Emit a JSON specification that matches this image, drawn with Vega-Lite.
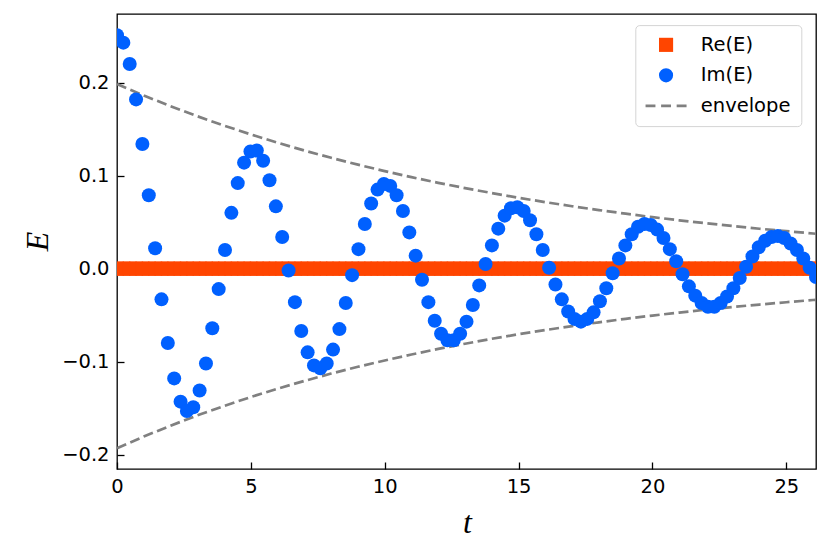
{
  "$schema": "https://vega.github.io/schema/vega-lite/v6.json",
  "width": 699,
  "height": 455,
  "autosize": {"type": "none"},
  "padding": {"left": 117, "top": 14, "right": 15, "bottom": 88},
  "background": "white",
  "config": {
    "view": {"stroke": "black", "strokeWidth": 1.3},
    "axis": {
      "grid": false, "domain": false, "tickColor": "black", "tickWidth": 1.3,
      "tickSize": -7, "labelPadding": 15, "labelFont": "DejaVu Sans", "labelFontSize": 19.5,
      "labelColor": "black", "labelFlush": false, "titleFont": "Liberation Serif", "titleFontStyle": "italic",
      "titleFontWeight": "normal", "titleFontSize": 32, "titleColor": "black", "zindex": 1
    },
    "axisX": {"titleX": 350, "titleY": 53, "titleAlign": "center", "titleBaseline": "middle", "titleAngle": 0},
    "axisY": {"titleX": -80, "titleY": 227, "titleAlign": "center", "titleBaseline": "middle", "titleAngle": -90},
    "legend": {
      "labelFont": "DejaVu Sans", "labelFontSize": 19.5, "labelColor": "black",
      "symbolSize": 200, "symbolStrokeWidth": 0, "padding": 10, "rowPadding": 9.5,
      "labelOffset": 25, "symbolOffset": 11, "strokeColor": "#d4d4d4", "fillColor": "white",
      "cornerRadius": 4, "strokeWidth": 1
    }
  },
  "datasets": {
    "pts": [
      {"t": 0, "re": 0, "im": 0.251}, {"t": 0.237, "re": 0, "im": 0.243}, {"t": 0.475, "re": 0, "im": 0.220},
      {"t": 0.712, "re": 0, "im": 0.182}, {"t": 0.949, "re": 0, "im": 0.134}, {"t": 1.187, "re": 0, "im": 0.079},
      {"t": 1.424, "re": 0, "im": 0.022}, {"t": 1.662, "re": 0, "im": -0.033}, {"t": 1.899, "re": 0, "im": -0.080},
      {"t": 2.136, "re": 0, "im": -0.118}, {"t": 2.374, "re": 0, "im": -0.143}, {"t": 2.611, "re": 0, "im": -0.153},
      {"t": 2.848, "re": 0, "im": -0.149}, {"t": 3.086, "re": 0, "im": -0.131}, {"t": 3.323, "re": 0, "im": -0.102},
      {"t": 3.560, "re": 0, "im": -0.064}, {"t": 3.798, "re": 0, "im": -0.022}, {"t": 4.035, "re": 0, "im": 0.020},
      {"t": 4.272, "re": 0, "im": 0.060}, {"t": 4.510, "re": 0, "im": 0.092}, {"t": 4.747, "re": 0, "im": 0.114},
      {"t": 4.985, "re": 0, "im": 0.126}, {"t": 5.222, "re": 0, "im": 0.127}, {"t": 5.459, "re": 0, "im": 0.116},
      {"t": 5.697, "re": 0, "im": 0.095}, {"t": 5.934, "re": 0, "im": 0.067}, {"t": 6.171, "re": 0, "im": 0.034},
      {"t": 6.409, "re": 0, "im": -0.002}, {"t": 6.646, "re": 0, "im": -0.036}, {"t": 6.883, "re": 0, "im": -0.067},
      {"t": 7.121, "re": 0, "im": -0.090}, {"t": 7.358, "re": 0, "im": -0.104}, {"t": 7.596, "re": 0, "im": -0.107},
      {"t": 7.833, "re": 0, "im": -0.102}, {"t": 8.070, "re": 0, "im": -0.087}, {"t": 8.308, "re": 0, "im": -0.065},
      {"t": 8.545, "re": 0, "im": -0.037}, {"t": 8.782, "re": 0, "im": -0.007}, {"t": 9.020, "re": 0, "im": 0.021},
      {"t": 9.257, "re": 0, "im": 0.048}, {"t": 9.494, "re": 0, "im": 0.070}, {"t": 9.732, "re": 0, "im": 0.085},
      {"t": 9.969, "re": 0, "im": 0.091}, {"t": 10.206, "re": 0, "im": 0.089}, {"t": 10.444, "re": 0, "im": 0.079},
      {"t": 10.681, "re": 0, "im": 0.062}, {"t": 10.919, "re": 0, "im": 0.039}, {"t": 11.156, "re": 0, "im": 0.014},
      {"t": 11.393, "re": 0, "im": -0.012}, {"t": 11.631, "re": 0, "im": -0.036}, {"t": 11.868, "re": 0, "im": -0.056},
      {"t": 12.105, "re": 0, "im": -0.070}, {"t": 12.343, "re": 0, "im": -0.077}, {"t": 12.580, "re": 0, "im": -0.077},
      {"t": 12.817, "re": 0, "im": -0.070}, {"t": 13.055, "re": 0, "im": -0.057}, {"t": 13.292, "re": 0, "im": -0.039},
      {"t": 13.530, "re": 0, "im": -0.018}, {"t": 13.767, "re": 0, "im": 0.005}, {"t": 14.004, "re": 0, "im": 0.025},
      {"t": 14.242, "re": 0, "im": 0.043}, {"t": 14.479, "re": 0, "im": 0.057}, {"t": 14.716, "re": 0, "im": 0.065},
      {"t": 14.954, "re": 0, "im": 0.066}, {"t": 15.191, "re": 0, "im": 0.062}, {"t": 15.428, "re": 0, "im": 0.052},
      {"t": 15.666, "re": 0, "im": 0.037}, {"t": 15.903, "re": 0, "im": 0.020}, {"t": 16.140, "re": 0, "im": 0.001},
      {"t": 16.378, "re": 0, "im": -0.017}, {"t": 16.615, "re": 0, "im": -0.033}, {"t": 16.853, "re": 0, "im": -0.046},
      {"t": 17.090, "re": 0, "im": -0.054}, {"t": 17.327, "re": 0, "im": -0.057}, {"t": 17.565, "re": 0, "im": -0.054},
      {"t": 17.802, "re": 0, "im": -0.047}, {"t": 18.039, "re": 0, "im": -0.035}, {"t": 18.277, "re": 0, "im": -0.021},
      {"t": 18.514, "re": 0, "im": -0.005}, {"t": 18.751, "re": 0, "im": 0.011}, {"t": 18.989, "re": 0, "im": 0.025},
      {"t": 19.226, "re": 0, "im": 0.037}, {"t": 19.464, "re": 0, "im": 0.045}, {"t": 19.701, "re": 0, "im": 0.048},
      {"t": 19.938, "re": 0, "im": 0.047}, {"t": 20.176, "re": 0, "im": 0.042}, {"t": 20.413, "re": 0, "im": 0.033},
      {"t": 20.650, "re": 0, "im": 0.021}, {"t": 20.888, "re": 0, "im": 0.008}, {"t": 21.125, "re": 0, "im": -0.006},
      {"t": 21.362, "re": 0, "im": -0.019}, {"t": 21.600, "re": 0, "im": -0.029}, {"t": 21.837, "re": 0, "im": -0.037},
      {"t": 22.074, "re": 0, "im": -0.041}, {"t": 22.312, "re": 0, "im": -0.041}, {"t": 22.549, "re": 0, "im": -0.037},
      {"t": 22.787, "re": 0, "im": -0.030}, {"t": 23.024, "re": 0, "im": -0.021}, {"t": 23.261, "re": 0, "im": -0.010},
      {"t": 23.499, "re": 0, "im": 0.002}, {"t": 23.736, "re": 0, "im": 0.013}, {"t": 23.973, "re": 0, "im": 0.023},
      {"t": 24.211, "re": 0, "im": 0.030}, {"t": 24.448, "re": 0, "im": 0.034}, {"t": 24.685, "re": 0, "im": 0.035},
      {"t": 24.923, "re": 0, "im": 0.033}, {"t": 25.160, "re": 0, "im": 0.027}, {"t": 25.398, "re": 0, "im": 0.020},
      {"t": 25.635, "re": 0, "im": 0.011}, {"t": 25.872, "re": 0, "im": 0.001}, {"t": 26.110, "re": 0, "im": -0.009}
    ],
    "env": [
      {"t": 0, "v": 0.1985, "side": "upper"}, {"t": 1, "v": 0.1862, "side": "upper"}, {"t": 2, "v": 0.1747, "side": "upper"},
      {"t": 3, "v": 0.1639, "side": "upper"}, {"t": 4, "v": 0.1538, "side": "upper"}, {"t": 5, "v": 0.1443, "side": "upper"},
      {"t": 6, "v": 0.1354, "side": "upper"}, {"t": 7, "v": 0.1270, "side": "upper"}, {"t": 8, "v": 0.1192, "side": "upper"},
      {"t": 9, "v": 0.1118, "side": "upper"}, {"t": 10, "v": 0.1049, "side": "upper"}, {"t": 11, "v": 0.0984, "side": "upper"},
      {"t": 12, "v": 0.0923, "side": "upper"}, {"t": 13, "v": 0.0866, "side": "upper"}, {"t": 14, "v": 0.0813, "side": "upper"},
      {"t": 15, "v": 0.0762, "side": "upper"}, {"t": 16, "v": 0.0715, "side": "upper"}, {"t": 17, "v": 0.0671, "side": "upper"},
      {"t": 18, "v": 0.0630, "side": "upper"}, {"t": 19, "v": 0.0591, "side": "upper"}, {"t": 20, "v": 0.0554, "side": "upper"},
      {"t": 21, "v": 0.0520, "side": "upper"}, {"t": 22, "v": 0.0488, "side": "upper"}, {"t": 23, "v": 0.0458, "side": "upper"},
      {"t": 24, "v": 0.0429, "side": "upper"}, {"t": 25, "v": 0.0403, "side": "upper"}, {"t": 26, "v": 0.0378, "side": "upper"},
      {"t": 26.11, "v": 0.0375, "side": "upper"},
      {"t": 0, "v": -0.1930, "side": "lower"}, {"t": 1, "v": -0.1805, "side": "lower"}, {"t": 2, "v": -0.1688, "side": "lower"},
      {"t": 3, "v": -0.1578, "side": "lower"}, {"t": 4, "v": -0.1476, "side": "lower"}, {"t": 5, "v": -0.1380, "side": "lower"},
      {"t": 6, "v": -0.1290, "side": "lower"}, {"t": 7, "v": -0.1207, "side": "lower"}, {"t": 8, "v": -0.1128, "side": "lower"},
      {"t": 9, "v": -0.1055, "side": "lower"}, {"t": 10, "v": -0.0987, "side": "lower"}, {"t": 11, "v": -0.0923, "side": "lower"},
      {"t": 12, "v": -0.0863, "side": "lower"}, {"t": 13, "v": -0.0807, "side": "lower"}, {"t": 14, "v": -0.0754, "side": "lower"},
      {"t": 15, "v": -0.0705, "side": "lower"}, {"t": 16, "v": -0.0660, "side": "lower"}, {"t": 17, "v": -0.0617, "side": "lower"},
      {"t": 18, "v": -0.0577, "side": "lower"}, {"t": 19, "v": -0.0539, "side": "lower"}, {"t": 20, "v": -0.0504, "side": "lower"},
      {"t": 21, "v": -0.0472, "side": "lower"}, {"t": 22, "v": -0.0441, "side": "lower"}, {"t": 23, "v": -0.0412, "side": "lower"},
      {"t": 24, "v": -0.0386, "side": "lower"}, {"t": 25, "v": -0.0361, "side": "lower"}, {"t": 26, "v": -0.0337, "side": "lower"},
      {"t": 26.11, "v": -0.0335, "side": "lower"}
    ]
  },
  "encoding": {
    "x": {
      "field": "t", "type": "quantitative", "title": "t",
      "scale": {"domain": [0, 26.11], "nice": false, "zero": false},
      "axis": {"values": [0, 5, 10, 15, 20, 25], "format": "d"}
    }
  },
  "layer": [
    {
      "data": {"name": "env"},
      "mark": {"type": "line", "clip": true, "strokeDash": [10, 4.5], "strokeWidth": 2.7, "color": "#808080"},
      "encoding": {
        "y": {"field": "v", "type": "quantitative", "title": "E",
              "scale": {"domain": [-0.2154, 0.2738], "nice": false, "zero": false},
              "axis": {"values": [-0.2, -0.1, 0, 0.1, 0.2], "format": ".1f"}},
        "detail": {"field": "side"}
      }
    },
    {
      "data": {"name": "pts"},
      "mark": {"type": "point", "filled": true, "size": 200, "opacity": 1, "clip": true},
      "encoding": {
        "y": {"field": "re", "type": "quantitative", "title": "E",
              "scale": {"domain": [-0.2154, 0.2738], "nice": false, "zero": false},
              "axis": {"values": [-0.2, -0.1, 0, 0.1, 0.2], "format": ".1f"}},
        "color": {"datum": "Re(E)", "type": "nominal",
                  "scale": {"domain": ["Re(E)", "Im(E)", "envelope"], "range": ["#ff4500", "#0060ff", "#808080"]},
                  "legend": {"orient": "none", "legendX": 518.3, "legendY": 11.1, "title": null}},
        "shape": {"datum": "Re(E)", "type": "nominal",
                  "scale": {"domain": ["Re(E)", "Im(E)", "envelope"],
                            "range": ["square", "circle", "M-2.9,-0.2L-1.5,-0.2L-1.5,0.2L-2.9,0.2Z M-0.7,-0.2L0.7,-0.2L0.7,0.2L-0.7,0.2Z M1.5,-0.2L2.9,-0.2L2.9,0.2L1.5,0.2Z"]},
                  "legend": {"orient": "none", "legendX": 518.3, "legendY": 11.1, "title": null}}
      }
    },
    {
      "data": {"name": "pts"},
      "mark": {"type": "point", "filled": true, "size": 196, "opacity": 1, "clip": true},
      "encoding": {
        "y": {"field": "im", "type": "quantitative", "title": "E",
              "scale": {"domain": [-0.2154, 0.2738], "nice": false, "zero": false},
              "axis": {"values": [-0.2, -0.1, 0, 0.1, 0.2], "format": ".1f"}},
        "color": {"datum": "Im(E)", "type": "nominal"},
        "shape": {"datum": "Im(E)", "type": "nominal"}
      }
    }
  ]
}
